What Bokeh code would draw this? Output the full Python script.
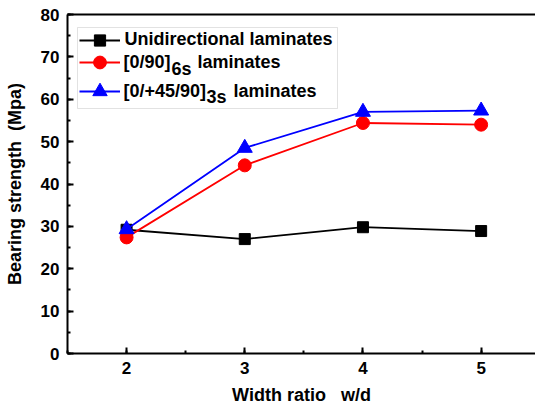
from bokeh.plotting import figure
from bokeh.models import (Range1d, LinearAxis, Legend, LegendItem, Label,
                          BoxAnnotation, SingleIntervalTicker, FixedTicker)
from bokeh.embed import file_html
from bokeh.resources import INLINE

# ---- data ----
width_ratio = [2, 3, 4, 5]
unidirectional = [29.2, 27.0, 29.8, 28.9]
cross_ply = [27.4, 44.4, 54.4, 54.0]
quasi_iso = [29.3, 48.5, 57.0, 57.3]

FONT = "Liberation Sans"

p = figure(width=535, height=413, output_backend="svg", toolbar_location=None,
           x_range=Range1d(1.5, 5.46), y_range=Range1d(0, 80),
           min_border_left=67, min_border_right=0, min_border_top=14,
           min_border_bottom=60, background_fill_color="white",
           border_fill_color="white", outline_line_color=None)
p.grid.visible = False

for ax in (p.xaxis[0], p.yaxis[0]):
    ax.axis_line_width = 2
    ax.axis_line_color = "black"
    ax.major_tick_in = 6
    ax.major_tick_out = 0
    ax.minor_tick_in = 3
    ax.minor_tick_out = 0
    ax.major_tick_line_width = 2
    ax.minor_tick_line_width = 2
    ax.major_label_text_font = FONT
    ax.major_label_text_font_style = "bold"
    ax.major_label_text_font_size = "17px"
    ax.major_label_text_color = "black"
    ax.axis_label_text_font = FONT
    ax.axis_label_text_font_style = "bold"
    ax.axis_label_text_font_size = "18px"
    ax.axis_label_text_color = "black"
    ax.major_label_standoff = 8

p.xaxis[0].ticker = SingleIntervalTicker(interval=1, num_minor_ticks=2)
p.yaxis[0].ticker = SingleIntervalTicker(interval=10, num_minor_ticks=2)
p.xaxis[0].axis_label = "Width ratio \u00a0\u00a0w/d"
p.yaxis[0].axis_label = "Bearing strength \u00a0(Mpa)"
p.xaxis[0].axis_label_standoff = 8
p.yaxis[0].axis_label_standoff = 13

top = LinearAxis(ticker=FixedTicker(ticks=[]), axis_line_width=2,
                 major_tick_in=0, major_tick_out=0, minor_tick_in=0,
                 minor_tick_out=0, major_label_text_font_size="0px",
                 major_label_standoff=0)
p.add_layout(top, "above")

# ---- series ----
l1 = p.line(width_ratio, unidirectional, line_color="black", line_width=1.8)
s1 = p.scatter(width_ratio, unidirectional, marker="square", size=11,
               fill_color="black", line_color="black")
l2 = p.line(width_ratio, cross_ply, line_color="#FF0000", line_width=1.8)
s2 = p.scatter(width_ratio, cross_ply, marker="circle", size=13,
               fill_color="#FF0000", line_color="#FF0000")
l3 = p.line(width_ratio, quasi_iso, line_color="#0000FF", line_width=1.8)
s3 = p.scatter(width_ratio, quasi_iso, marker="triangle", size=15,
               fill_color="#0000FF", line_color="#0000FF")

# ---- legend (frame-relative screen units, y from bottom) ----
def add_entry(rends, center_y, gh):
    lg = Legend(items=[LegendItem(label=" ", renderers=rends)],
                location=(12, int(round(center_y - gh / 2))), glyph_width=41,
                glyph_height=gh, padding=0, margin=0, spacing=0,
                label_width=0, label_height=0, label_standoff=0,
                border_line_alpha=0, background_fill_alpha=0,
                label_text_font_size="1px", inactive_fill_alpha=0)
    p.add_layout(lg, "center")

add_entry([l1, s1], 312.7, 28)
add_entry([l2, s2], 291.3, 32)
add_entry([l3, s3], 261.7, 36)

box = BoxAnnotation(left=10, right=270, bottom=245, top=326,
                    left_units="screen", right_units="screen",
                    bottom_units="screen", top_units="screen",
                    fill_alpha=0, line_color="#A0A0A0", line_width=1)
p.add_layout(box)

def txt(x, y, s):
    p.add_layout(Label(x=x, y=y, x_units="screen", y_units="screen", text=s,
                       text_font=FONT, text_font_style="bold",
                       text_font_size="18px", text_baseline="middle",
                       text_color="black"))

txt(57, 314.8, "Unidirectional laminates")
txt(56, 291.3, "[0/90]")
txt(104, 284.5, "6s")
txt(130, 291.3, "laminates")
txt(56, 262.7, "[0/+45/90]")
txt(139, 257, "3s")
txt(166, 262.7, "laminates")

open("out.html", "w").write(file_html(p, INLINE))
